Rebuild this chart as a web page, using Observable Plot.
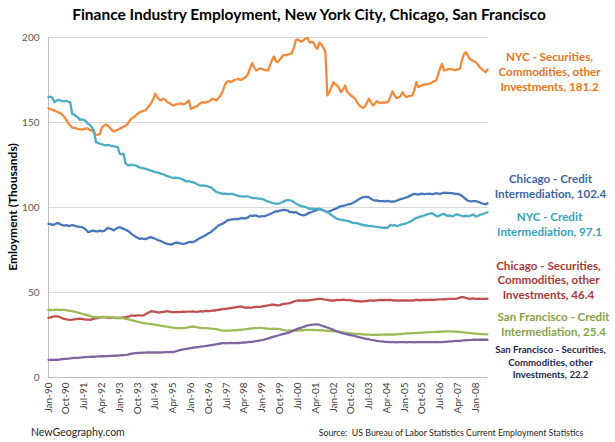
<!DOCTYPE html>
<html>
<head>
<meta charset="utf-8">
<script src="https://cdn.jsdelivr.net/npm/d3@7"></script>
<script src="https://cdn.jsdelivr.net/npm/@observablehq/plot@0.6"></script>
<style>
  html, body { margin: 0; padding: 0; background: #ffffff; }
  #chart svg { display: block; }
</style>
</head>
<body>
<div id="chart"></div>
<script>
// ---------------- DATA ----------------
const firstMonth = "1990-01";          // monthly data, Jan-90 .. Jul-08
const tickLabels = ["Jan-90","Oct-90","Jul-91","Apr-92","Jan-93","Oct-93","Jul-94","Apr-95","Jan-96","Oct-96","Jul-97","Apr-98","Jan-99","Oct-99","Jul-00","Apr-01","Jan-02","Oct-02","Jul-03","Apr-04","Jan-05","Oct-05","Jul-06","Apr-07","Jan-08"];
const yTicks = [0, 50, 100, 150, 200];

const nycSecurities = [
158.4,157.8,157.5,157.0,156.5,156.0,155.4,154.6,153.2,151.5,149.6,148.2,
147.0,146.8,146.5,146.2,146.0,145.8,146.1,146.6,146.4,145.5,145.3,144.2,
142.7,142.9,143.2,147.0,148.0,148.8,148.2,147.0,145.6,144.7,145.3,145.6,
146.4,147.0,147.5,148.2,149.0,151.0,152.3,153.0,154.0,155.0,156.0,156.4,
156.8,157.2,158.5,160.0,161.5,163.8,166.9,165.0,163.6,163.0,164.0,163.5,
162.0,161.5,160.8,160.0,160.4,160.8,161.0,161.3,160.6,161.0,162.0,163.0,
158.0,158.6,159.2,159.5,160.5,161.5,162.0,161.6,162.0,162.3,163.2,164.0,
163.5,163.0,164.5,166.0,168.0,171.5,173.7,174.5,173.8,174.2,175.0,175.3,
175.7,175.0,175.4,176.2,177.0,178.6,182.0,184.9,182.5,180.6,181.2,181.8,
181.5,181.0,180.8,180.6,183.5,186.5,188.8,186.0,185.5,187.0,188.5,189.8,
189.5,190.0,190.4,190.8,193.5,198.2,199.0,198.0,197.6,198.5,199.3,199.8,
197.0,197.5,197.0,194.5,193.3,197.0,196.0,194.0,191.5,165.9,167.8,170.5,
173.7,172.5,171.8,170.0,167.8,169.5,171.8,168.0,167.0,165.9,165.0,164.0,
162.0,160.2,159.4,158.6,159.5,161.5,164.0,162.0,160.0,161.0,162.5,161.8,
161.4,161.8,161.6,162.0,162.4,165.5,168.2,166.0,164.3,164.8,165.5,167.8,
166.0,165.0,165.4,165.6,165.9,169.0,173.7,170.8,171.5,172.0,172.3,172.5,
172.7,173.0,173.5,174.2,174.7,178.0,181.6,184.5,180.6,181.0,181.3,181.6,
181.2,181.0,180.8,181.3,181.6,186.0,190.0,191.4,189.5,187.5,186.8,186.0,
185.5,184.2,182.6,181.5,180.5,179.6,181.2];

const chicagoCredit = [
90.4,90.2,89.8,90.0,90.6,90.8,90.2,89.6,89.4,89.6,89.2,89.4,
89.6,89.4,89.0,88.8,88.6,88.4,87.8,87.0,85.5,85.8,86.5,86.2,
86.0,85.9,86.4,86.0,86.2,87.0,88.0,87.6,87.2,86.5,87.4,88.0,
88.4,88.0,87.4,86.9,86.4,85.6,84.5,83.6,82.8,82.2,81.6,81.8,
81.6,81.4,81.8,82.4,82.5,82.0,81.6,81.0,80.6,80.2,79.6,79.0,
78.6,78.4,78.2,78.6,79.2,79.4,79.2,78.8,78.6,78.8,79.2,79.6,
79.8,79.6,80.2,80.8,81.6,82.2,82.8,83.4,84.1,84.8,85.4,86.5,
87.4,88.4,89.4,90.0,90.4,91.2,92.0,92.7,92.8,93.0,93.2,93.3,
93.1,93.6,93.9,93.4,93.8,94.2,95.3,95.0,95.2,95.3,94.8,94.6,
95.0,94.7,95.2,95.6,96.2,96.6,97.2,97.8,97.6,98.2,98.4,98.6,
98.4,98.2,97.3,97.4,97.0,97.3,96.6,96.0,95.6,95.3,95.8,96.4,
97.0,97.3,97.8,98.2,98.6,99.2,98.8,98.2,97.8,97.3,97.8,98.2,
98.8,99.2,99.6,100.4,100.8,101.0,101.2,101.6,102.0,102.2,102.8,103.4,
104.1,104.8,105.6,106.0,106.2,106.3,106.0,105.2,104.6,104.1,104.2,103.8,
103.7,103.8,103.6,103.9,103.7,103.4,103.6,103.5,104.0,104.4,105.0,105.2,
105.6,106.0,106.4,107.0,107.6,108.0,107.8,107.6,108.0,108.2,107.8,108.0,
108.0,108.2,107.8,108.0,108.4,108.2,108.0,108.4,108.8,108.6,108.6,108.4,
108.4,108.2,108.0,108.0,107.6,107.0,106.0,105.0,104.0,103.7,103.6,103.8,
103.7,103.4,103.0,102.5,102.2,102.0,102.4];

const nycCredit = [
164.9,165.2,164.6,162.0,162.8,163.3,163.0,162.6,162.4,162.8,162.2,162.0,
155.0,154.6,153.7,153.0,151.5,151.8,151.5,150.6,149.2,148.5,147.0,145.3,
138.4,138.0,137.5,137.2,136.8,136.5,136.8,136.5,136.3,136.0,135.8,135.5,
131.6,131.4,131.6,126.0,125.0,124.8,125.2,124.9,124.8,124.2,123.6,123.3,
123.0,122.8,122.4,122.0,121.6,121.2,120.8,120.6,120.2,119.8,119.6,119.0,
118.4,118.2,117.8,117.4,117.6,117.4,117.4,116.8,116.4,115.8,115.3,115.5,
115.0,114.9,114.4,113.8,113.2,112.9,113.0,112.9,112.6,112.2,112.0,111.0,
110.0,109.0,108.8,108.5,108.0,108.2,108.0,107.8,108.0,108.0,107.6,107.2,
106.8,106.5,106.6,106.4,106.5,106.5,106.0,105.6,105.5,105.5,105.2,105.2,
105.0,104.6,104.0,103.6,103.1,102.8,102.5,102.2,102.2,102.5,103.0,103.6,
104.2,104.5,104.2,104.0,103.2,102.4,101.8,101.2,100.8,100.5,100.2,99.8,
99.2,99.4,99.2,99.0,99.2,99.2,98.8,98.4,97.8,97.3,96.5,95.6,
94.8,94.0,93.3,93.0,92.8,92.6,92.4,92.2,91.8,91.4,91.0,90.8,
90.8,90.4,90.0,89.8,89.4,89.4,89.0,89.2,88.9,88.8,88.6,88.4,
88.2,88.0,88.2,88.0,88.6,89.8,89.4,89.6,89.2,89.4,89.8,90.2,
90.4,90.8,91.2,91.8,92.4,93.3,93.8,94.2,94.6,95.0,95.3,95.8,
96.2,96.4,96.7,95.8,95.2,94.7,95.4,96.0,96.2,95.5,95.0,95.4,
94.7,95.2,95.8,95.9,95.4,95.0,94.8,95.2,94.7,95.0,95.5,95.9,
94.7,95.0,95.6,95.9,96.3,96.8,97.1];

const chicagoSecurities = [
35.1,35.3,35.6,35.9,36.0,35.9,35.4,34.8,34.5,34.2,34.0,33.9,
34.0,34.2,34.3,34.4,34.6,34.5,34.2,34.0,34.1,33.9,34.2,34.6,
34.8,35.0,35.2,35.5,35.6,35.3,35.2,35.0,35.1,35.2,35.0,35.1,
35.0,35.1,35.4,35.5,35.8,36.0,36.5,36.4,36.3,36.5,36.6,36.4,
36.5,37.2,37.8,38.4,39.0,38.8,38.6,38.4,38.2,38.4,38.6,38.8,
39.0,38.8,38.6,38.5,38.4,38.6,38.4,38.6,38.8,38.6,38.7,38.8,
38.8,38.9,38.8,38.6,38.8,39.0,38.8,39.0,39.2,39.1,39.2,39.4,
39.4,39.6,39.8,40.0,40.2,40.4,40.4,40.6,40.8,41.0,41.2,41.4,
41.6,41.8,41.6,41.3,41.0,41.2,41.0,41.2,41.4,41.6,41.5,41.6,
41.8,42.0,42.2,42.4,42.6,42.9,42.8,42.6,42.4,42.6,43.0,43.3,
43.5,43.6,43.8,44.2,44.6,45.0,45.3,45.4,45.2,45.3,45.4,45.3,
45.4,45.6,45.8,46.0,46.2,46.3,46.3,46.0,45.8,45.6,45.4,45.3,
45.3,45.4,45.6,45.5,45.7,45.8,45.7,45.5,45.6,45.4,45.2,45.0,
44.9,44.8,44.7,44.8,44.9,45.0,45.2,45.3,45.1,45.3,45.4,45.5,
45.6,45.7,45.6,45.5,45.7,45.6,45.4,45.3,45.4,45.2,45.4,45.3,
45.4,45.3,45.2,45.4,45.3,45.4,45.6,45.5,45.4,45.6,45.7,45.6,
45.7,45.8,45.6,45.7,45.8,45.9,45.9,46.0,46.1,46.0,46.2,46.3,
46.2,46.3,46.4,46.6,47.0,47.3,47.2,46.8,46.5,46.3,46.4,46.5,
46.3,46.2,46.4,46.3,46.2,46.3,46.4];

const sfCredit = [
39.8,39.7,39.6,39.8,39.9,39.8,39.7,39.8,39.8,39.6,39.4,39.2,
39.0,38.7,38.4,38.1,37.9,37.5,37.2,36.9,36.5,36.2,35.8,35.5,
35.5,35.4,35.6,35.5,35.4,35.6,35.5,35.4,35.3,35.2,35.1,35.2,
35.1,35.0,34.8,34.5,34.3,34.0,33.7,33.4,33.1,32.8,32.6,32.3,
32.1,31.9,31.7,31.6,31.4,31.2,31.0,30.8,30.6,30.4,30.2,30.0,
29.9,29.7,29.5,29.3,29.2,29.1,29.2,29.0,29.0,29.2,29.3,29.6,
29.8,30.0,29.8,29.6,29.4,29.2,29.0,29.1,29.0,28.9,28.8,28.6,
28.6,28.4,28.1,27.8,27.6,27.6,27.5,27.6,27.6,27.7,27.8,27.9,
28.0,28.1,28.2,28.3,28.5,28.6,28.8,28.9,29.0,29.1,29.2,29.2,
29.1,29.0,28.8,28.7,28.6,28.6,28.7,28.6,28.6,28.5,28.2,27.9,
27.7,27.6,27.6,27.7,27.6,27.6,27.6,27.7,27.8,27.9,28.0,28.0,
28.0,28.0,28.0,27.9,27.9,27.8,27.8,27.7,27.6,27.5,27.4,27.3,
27.2,27.1,27.1,27.0,26.8,26.6,26.4,26.2,26.0,25.9,25.8,25.7,
25.7,25.6,25.5,25.4,25.3,25.2,25.2,25.1,25.1,25.1,25.2,25.1,
25.2,25.2,25.3,25.3,25.2,25.3,25.4,25.3,25.4,25.5,25.6,25.7,
25.8,25.9,26.0,26.0,26.1,26.1,26.2,26.3,26.3,26.4,26.5,26.6,
26.6,26.7,26.7,26.8,26.8,26.9,26.9,27.0,27.0,27.1,27.1,27.1,
27.0,27.1,27.0,26.9,26.8,26.6,26.5,26.4,26.3,26.2,26.0,25.9,
25.8,25.7,25.6,25.5,25.5,25.4,25.4];

const sfSecurities = [
10.4,10.4,10.5,10.4,10.5,10.4,10.6,10.8,10.9,11.0,11.1,11.2,
11.4,11.5,11.5,11.6,11.7,11.8,12.0,12.0,12.1,12.1,12.2,12.2,
12.3,12.4,12.4,12.5,12.5,12.6,12.6,12.7,12.7,12.8,12.8,12.9,
13.0,13.1,13.2,13.3,13.5,13.8,14.0,14.2,14.3,14.4,14.5,14.5,
14.6,14.6,14.7,14.7,14.7,14.8,14.7,14.7,14.7,14.8,14.8,14.9,
14.9,14.9,15.0,14.9,15.2,15.6,16.0,16.3,16.5,16.7,16.9,17.1,
17.3,17.5,17.7,17.8,17.9,18.1,18.3,18.4,18.6,18.8,19.0,19.2,
19.4,19.6,19.8,20.0,20.2,20.2,20.1,20.2,20.3,20.2,20.2,20.3,
20.3,20.4,20.5,20.6,20.7,20.8,20.9,21.0,21.2,21.4,21.6,21.8,
22.0,22.3,22.6,22.9,23.3,23.7,24.0,24.3,24.7,25.0,25.4,25.7,
26.0,26.3,26.6,27.1,27.6,28.2,28.6,29.0,29.4,29.8,30.2,30.6,
30.8,31.0,31.1,31.2,31.2,31.0,30.6,30.2,29.8,29.4,29.0,28.5,
28.0,27.5,27.1,26.7,26.3,26.0,25.7,25.4,25.1,24.9,24.7,24.4,
24.1,23.8,23.5,23.2,22.9,22.7,22.5,22.2,22.0,21.8,21.6,21.4,
21.3,21.2,21.0,20.9,20.8,20.8,20.8,20.8,20.7,20.8,20.8,20.8,
20.8,20.7,20.8,20.8,20.8,20.7,20.8,20.8,20.8,20.8,20.8,20.8,
20.8,20.8,20.8,20.8,20.9,20.8,20.8,20.8,20.9,21.0,21.1,21.2,
21.3,21.4,21.5,21.5,21.6,21.7,21.8,21.9,22.0,22.0,22.1,22.2,
22.2,22.1,22.2,22.2,22.2,22.2,22.2];

const seriesNames = [
  "NYC - Securities, Commodities, other Investments",
  "Chicago - Credit Intermediation",
  "NYC - Credit Intermediation",
  "Chicago - Securities, Commodities, other Investments",
  "San Francisco - Credit Intermediation",
  "San Francisco - Securities, Commodities, other Investments"
];
const seriesValues = [nycSecurities, chicagoCredit, nycCredit, chicagoSecurities, sfCredit, sfSecurities];
const labelLines = [
  ["NYC - Securities,", "Commodities, other", "Investments, "],
  ["Chicago - Credit", "Intermediation, "],
  ["NYC - Credit", "Intermediation, "],
  ["Chicago - Securities,", "Commodities, other", "Investments, "],
  ["San Francisco - Credit", "Intermediation, "],
  ["San Francisco - Securities,", "Commodities, other", "Investments, "]
];

// ---------------- STYLE ----------------
const lineColors  = ["#F28A3A", "#4677BA", "#4BACC6", "#C0504D", "#9BBB59", "#8064A2"];
const labelColors = ["#E8721E", "#3D66A6", "#35A2BE", "#A83A37", "#85A447", "#24264F"];
const labelSize   = [11.6, 11.6, 11.6, 11.6, 11.6, 9.6];
const labelDy     = [1.5, -18, 11, -19, -10.5, 22];
const labelDx     = [62, 63, 62, 61, 66, 63];

// ---------------- BUILD ----------------
const start = d3.utcParse("%Y-%m")(firstMonth);
const nMonths = nycSecurities.length;
const dates = d3.range(nMonths).map(i => d3.utcMonth.offset(start, i));
const parseTick = d3.utcParse("%b-%y");
const tickDates = tickLabels.map(parseTick);

const rows = seriesValues.flatMap((vals, s) =>
  vals.map((v, i) => ({date: dates[i], value: v, series: seriesNames[s]})));
const lastPoints = seriesValues.map((vals, s) => ({
  date: dates[vals.length - 1],
  value: vals[vals.length - 1],
  label: labelLines[s].map((l, j) => j === labelLines[s].length - 1 ? l + vals[vals.length - 1].toFixed(1) : l).join("\n")
}));

const font = "Lato, 'Open Sans', sans-serif";

const chart = Plot.plot({
  width: 615,
  height: 442,
  marginLeft: 48,
  marginRight: 128,
  marginTop: 37,
  marginBottom: 65,
  style: {fontFamily: font, background: "#ffffff", overflow: "visible"},
  x: {type: "utc", domain: [dates[0], dates[nMonths - 1]]},
  y: {domain: [0, 200]},
  marks: [
    Plot.gridY(yTicks, {stroke: "#d9d9d9", strokeOpacity: 1, strokeWidth: 1}),
    Plot.ruleY([0], {stroke: "#bfbfbf", strokeWidth: 1}),
    Plot.ruleX([dates[0]], {y1: 0, y2: 200, stroke: "#bfbfbf", strokeWidth: 1}),
    Plot.axisY(yTicks, {tickSize: 0, tickPadding: 9, fontSize: 10, fill: "#595959", label: null}),
    Plot.axisX(tickDates, {
      tickSize: 0, tickPadding: 5, tickRotate: -90, fontSize: 10, fill: "#404040",
      tickFormat: (d, i) => tickLabels[i], label: null
    }),
    ...seriesValues.map((vals, s) =>
      Plot.line(rows.filter(r => r.series === seriesNames[s]), {
        x: "date", y: "value", stroke: lineColors[s], strokeWidth: 2.3,
        strokeLinejoin: "round", strokeLinecap: "round"
      })),
    ...lastPoints.map((p, s) =>
      Plot.text([p], {
        x: "date", y: "value", text: "label",
        dx: labelDx[s], dy: labelDy[s],
        fill: labelColors[s], fontSize: labelSize[s], fontWeight: "bold",
        textAnchor: "middle", lineAnchor: "middle", lineHeight: 1.28
      }))
  ]
});

const svg = d3.select(chart);
svg.append("text")
  .attr("x", 309).attr("y", 20)
  .attr("text-anchor", "middle")
  .attr("font-family", font).attr("font-weight", "bold").attr("font-size", 15.5)
  .attr("fill", "#000")
  .text("Finance Industry Employment, New York City, Chicago, San Francisco");
svg.append("text")
  .attr("transform", "translate(17,207) rotate(-90)")
  .attr("text-anchor", "middle")
  .attr("font-family", font).attr("font-weight", "bold").attr("font-size", 12)
  .attr("fill", "#000")
  .text("Emloyment (Thousands)");
svg.append("text")
  .attr("x", 31).attr("y", 436)
  .attr("text-anchor", "start")
  .attr("font-family", font).attr("font-size", 10.5)
  .attr("fill", "#262626")
  .text("NewGeography.com");
svg.append("text")
  .attr("x", 451).attr("y", 436)
  .attr("text-anchor", "middle")
  .attr("font-family", font).attr("font-size", 8.8)
  .attr("fill", "#262626")
  .text("Source:  US Bureau of Labor Statistics Current Employment Statistics");

document.getElementById("chart").appendChild(chart);
</script>
</body>
</html>
